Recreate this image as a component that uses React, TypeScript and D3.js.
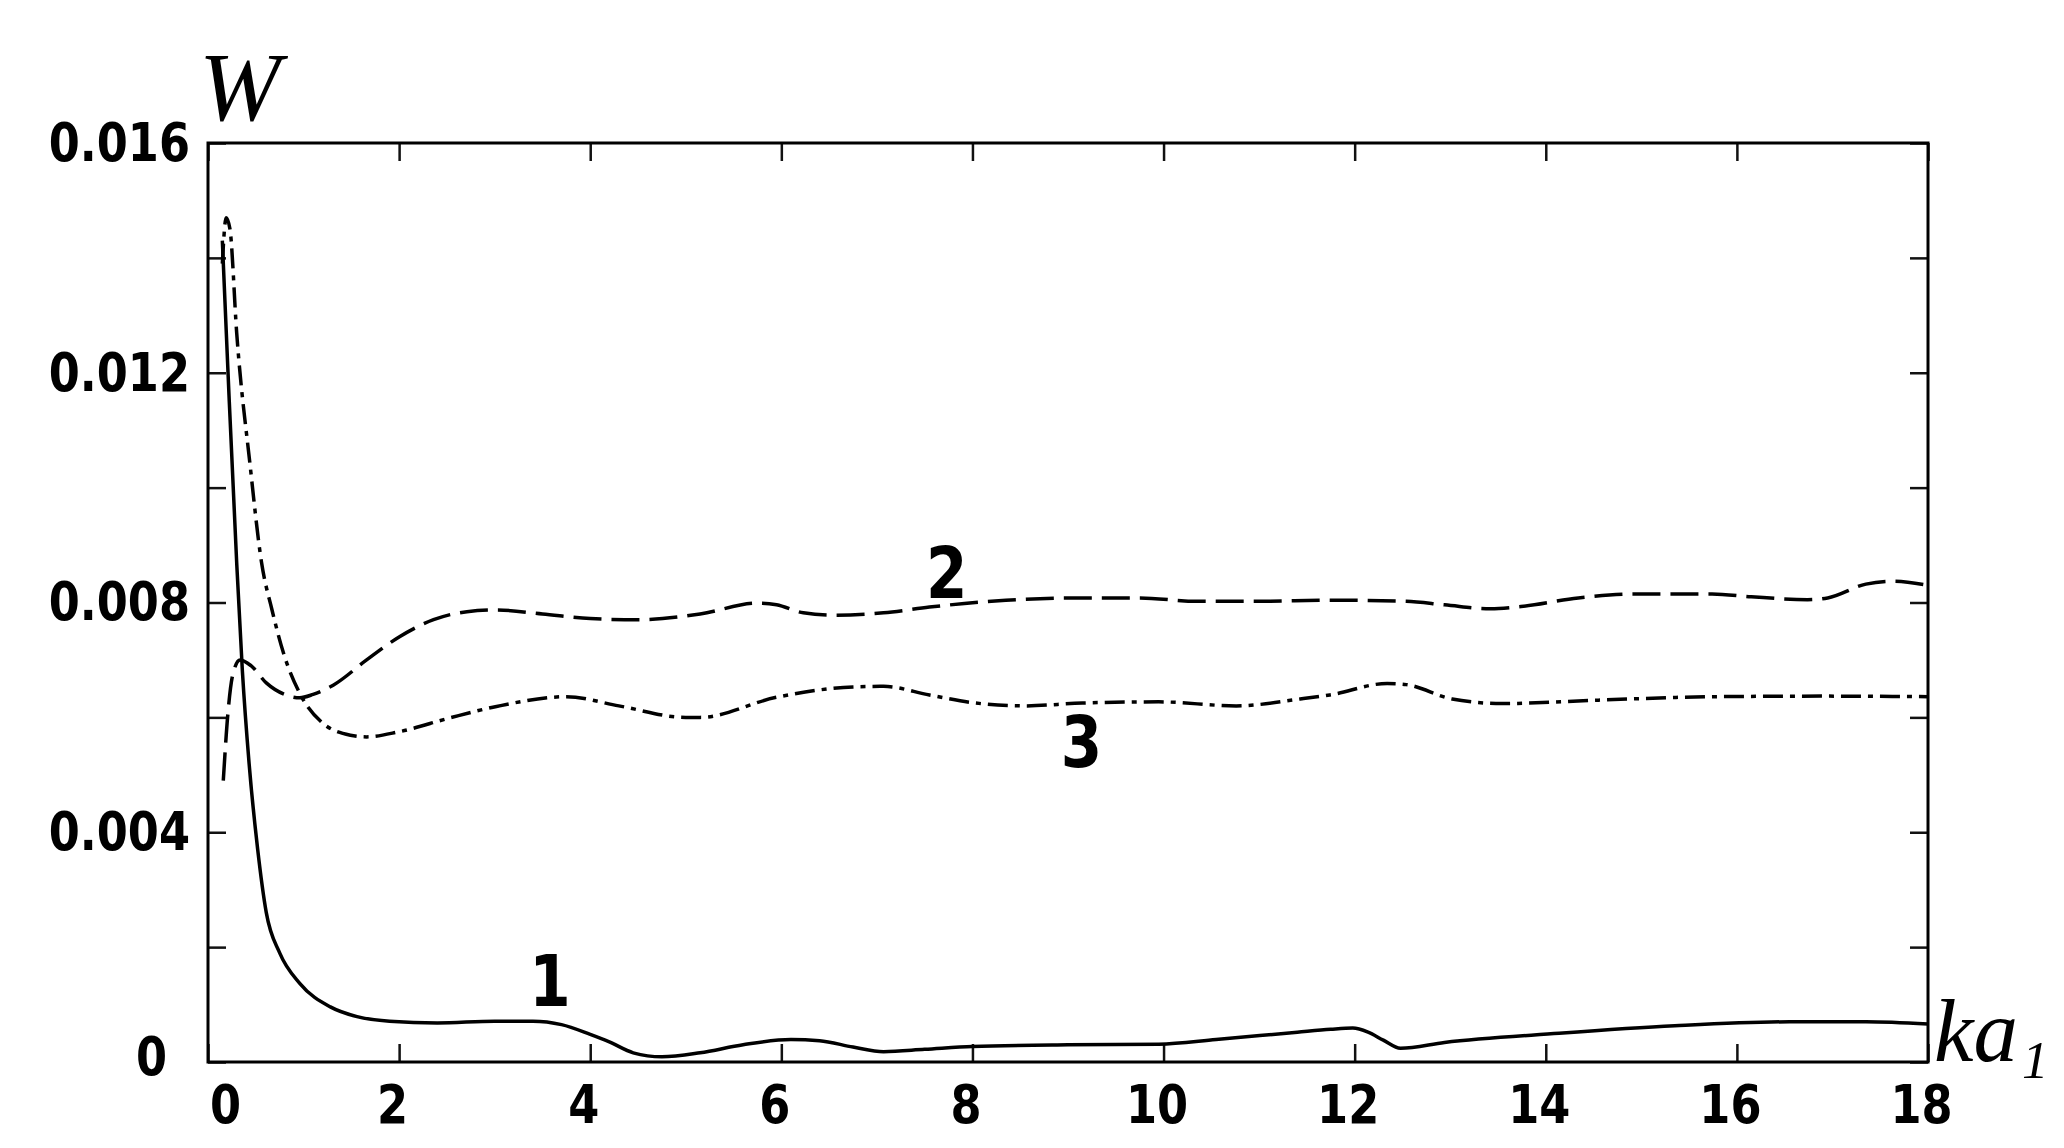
import React, { useEffect, useRef } from 'react';
import * as d3 from 'd3';

// tick values / labels
const X_TICKS = [0, 2, 4, 6, 8, 10, 12, 14, 16, 18];
const X_LABELS = ['0', '2', '4', '6', '8', '10', '12', '14', '16', '18'];
const Y_TICKS = [0, 0.002, 0.004, 0.006, 0.008, 0.01, 0.012, 0.014, 0.016];
const Y_LABELS = ['0', '', '0.004', '', '0.008', '', '0.012', '', '0.016'];

// curve 1 (solid): [ka1, W]
const curve1: [number, number][] = [
  [0.15, 0.0143], [0.22, 0.0116], [0.30, 0.0087], [0.36, 0.0068], [0.43, 0.0052],
  [0.52, 0.0037], [0.61, 0.0026], [0.75, 0.0019], [0.96, 0.00137], [1.28, 0.00096],
  [1.56, 0.00079], [1.9, 0.00071], [2.4, 0.00068], [3.0, 0.00071], [3.4, 0.00071],
  [3.7, 0.00065], [4.0, 0.00048], [4.2, 0.00035], [4.45, 0.00016], [4.75, 0.00009],
  [5.15, 0.00016], [5.6, 0.0003], [6.1, 0.00039], [6.4, 0.00037], [6.75, 0.00026],
  [7.07, 0.00018], [7.5, 0.00022], [8.0, 0.00027], [9.0, 0.0003], [9.95, 0.00031],
  [10.55, 0.00039], [11.4, 0.00052], [11.75, 0.00057], [11.98, 0.00059], [12.14, 0.00052],
  [12.3, 0.00038], [12.48, 0.00024], [12.94, 0.00034], [14.14, 0.0005], [15.35, 0.00063],
  [16.55, 0.0007], [17.35, 0.0007], [18.0, 0.00066],
];

// curve 2 (dashed)
const curve2: [number, number][] = [
  [0.16, 0.0049], [0.21, 0.0061], [0.26, 0.00675], [0.335, 0.0070], [0.45, 0.0069],
  [0.61, 0.0066], [0.8, 0.0064], [0.96, 0.00634], [1.1, 0.0064], [1.31, 0.00656],
  [1.66, 0.0070], [2.0, 0.0074], [2.36, 0.0077], [2.71, 0.00784], [3.02, 0.00787],
  [3.5, 0.0078], [4.0, 0.00772], [4.5, 0.0077], [5.15, 0.0078], [5.75, 0.00799],
  [5.95, 0.00796], [6.23, 0.00782], [6.55, 0.00778], [7.07, 0.00782], [7.55, 0.00792],
  [8.35, 0.00804], [9.15, 0.00808], [9.75, 0.00808], [10.35, 0.00802], [11.0, 0.00802],
  [11.74, 0.00804], [12.54, 0.00802], [12.94, 0.00796], [13.42, 0.00789], [13.74, 0.00793],
  [14.34, 0.00808], [14.94, 0.00815], [15.74, 0.00815], [16.15, 0.0081], [16.74, 0.00805],
  [16.95, 0.00808], [17.35, 0.00832], [17.63, 0.00837], [18.0, 0.0083],
];

// curve 3 (dash-dot)
const curve3: [number, number][] = [
  [0.15, 0.0139], [0.19, 0.0147], [0.23, 0.0145], [0.3, 0.0127], [0.44, 0.0104],
  [0.56, 0.0087], [0.67, 0.00787], [0.79, 0.00712], [0.96, 0.00642], [1.2, 0.0059],
  [1.49, 0.00569], [1.66, 0.00566], [2.0, 0.00575], [2.53, 0.00599], [3.02, 0.00619],
  [3.75, 0.00636], [4.3, 0.0062], [5.0, 0.006], [5.15, 0.006], [5.95, 0.00635],
  [6.75, 0.00653], [7.07, 0.00654], [7.55, 0.00639], [8.03, 0.00625], [8.55, 0.0062],
  [9.15, 0.00625], [9.95, 0.00627], [10.76, 0.0062], [11.43, 0.00632], [11.74, 0.00639],
  [12.34, 0.00659], [12.54, 0.00657], [13.02, 0.00632], [13.54, 0.00624], [14.55, 0.0063],
  [15.74, 0.00636], [16.95, 0.00637], [18.0, 0.00636],
];

// curve labels: [text, ka1, W]
const CURVE_LABELS: [string, number, number][] = [
  ['1', 3.58, 0.00098],
  ['2', 7.73, 0.00807],
  ['3', 9.14, 0.00514],
];

const LABEL_FONT = '"DejaVu Sans Condensed", "DejaVu Sans", sans-serif';
const SERIF = '"Liberation Serif", "DejaVu Serif", serif';
const SQUEEZE = 0.92; // tick text is a bit narrower / taller than the plain font

const App: React.FC = () => {
  const svgRef = useRef<SVGSVGElement>(null);

  useEffect(() => {
    if (!svgRef.current) return;
    const svg = d3.select(svgRef.current);
    svg.selectAll('*').remove();

    const left = 208, right = 1928, top = 143, bottom = 1062;
    const x = d3.scaleLinear().domain([0, 18]).range([left, right]);
    const y = d3.scaleLinear().domain([0, 0.016]).range([bottom, top]);

    // bottom axis (ticks pointing in)
    const gx = svg.append('g')
      .attr('transform', `translate(0,${bottom})`)
      .call(d3.axisBottom(x).tickValues(X_TICKS).tickSize(-18).tickPadding(23)
        .tickFormat((d, i) => X_LABELS[i]));
    // top axis, ticks only
    svg.append('g')
      .attr('transform', `translate(0,${top})`)
      .call(d3.axisTop(x).tickValues(X_TICKS).tickSize(-18).tickFormat(() => ''));
    // left axis
    const gy = svg.append('g')
      .attr('transform', `translate(${left},0)`)
      .call(d3.axisLeft(y).tickValues(Y_TICKS).tickSize(-18).tickPadding(18)
        .tickFormat((d, i) => Y_LABELS[i]));
    // right axis, ticks only
    svg.append('g')
      .attr('transform', `translate(${right},0)`)
      .call(d3.axisRight(y).tickValues(Y_TICKS).tickSize(-18).tickFormat(() => ''));

    svg.selectAll('.domain').remove();
    svg.selectAll('.tick line').attr('stroke', '#111').attr('stroke-width', 2.5);

    [gx, gy].forEach(g => {
      g.attr('font-family', LABEL_FONT)
        .attr('font-size', 54)
        .attr('font-weight', 'bold')
        .style('font-stretch', 'condensed');
      g.selectAll('text').attr('fill', '#000');
    });

    // x labels sit slightly left of their ticks; the corner "0" is pushed right
    gx.selectAll<SVGTextElement, number>('text')
      .attr('x', d => (d === 0 ? 17 : -7) / SQUEEZE)
      .attr('transform', `scale(${SQUEEZE},1)`);
    gy.selectAll<SVGTextElement, number>('text')
      .attr('x', d => (d === 0 ? -41 : -18) / SQUEEZE)
      .attr('y', d => (d === 0 ? -5 : 0))
      .attr('transform', `scale(${SQUEEZE},1)`);

    // frame
    svg.append('rect')
      .attr('x', left).attr('y', top)
      .attr('width', right - left).attr('height', bottom - top)
      .attr('fill', 'none').attr('stroke', '#000').attr('stroke-width', 3);

    // curves
    const line = d3.line<[number, number]>()
      .x(d => x(d[0]))
      .y(d => y(d[1]))
      .curve(d3.curveMonotoneX);

    const series: { data: [number, number][]; dash: string | null }[] = [
      { data: curve1, dash: null },
      { data: curve2, dash: '28,10' },
      { data: curve3, dash: '20,7,5,7' },
    ];
    series.forEach(s => {
      svg.append('path')
        .datum(s.data)
        .attr('d', line)
        .attr('fill', 'none')
        .attr('stroke', '#000')
        .attr('stroke-width', 3.5)
        .attr('stroke-dasharray', s.dash);
    });

    // curve numbers
    svg.append('g')
      .attr('font-family', LABEL_FONT)
      .attr('font-size', 72)
      .attr('font-weight', 'bold')
      .style('font-stretch', 'condensed')
      .selectAll('text')
      .data(CURVE_LABELS)
      .enter()
      .append('text')
      .attr('transform', d => `translate(${x(d[1])},${y(d[2])}) scale(${SQUEEZE},1)`)
      .attr('text-anchor', 'middle')
      .text(d => d[0]);

    // axis titles
    svg.append('text')
      .attr('x', 199).attr('y', 120)
      .attr('font-family', SERIF)
      .attr('font-style', 'italic')
      .attr('font-size', 98)
      .text('W');

    const ka = svg.append('text')
      .attr('x', 1934).attr('y', 1061)
      .attr('font-family', SERIF)
      .attr('font-style', 'italic')
      .attr('font-size', 89);
    ka.append('tspan').text('ka');
    ka.append('tspan').attr('dx', 4).attr('dy', 17).attr('font-size', 53).text('1');
  }, []);

  return (
    <svg
      ref={svgRef}
      width={2064}
      height={1148}
      viewBox="0 0 2064 1148"
      style={{ position: 'absolute', left: 0, top: 0, background: '#fff' }}
    />
  );
};

export default App;
